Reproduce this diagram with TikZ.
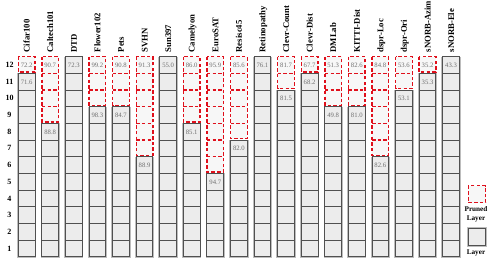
\documentclass[tikz,border=0pt]{standalone}
\usepackage{fontspec}
\setmainfont{Liberation Serif}
\definecolor{cellfill}{HTML}{ECECEC}
\definecolor{celldraw}{HTML}{505050}
\definecolor{halocol}{HTML}{BDBDBD}
\definecolor{prunefill}{HTML}{F7F7F7}
\definecolor{prunered}{HTML}{E0101C}
\definecolor{numgray}{HTML}{707070}
\tikzset{
 normcell/.style={draw=celldraw, fill=cellfill, line width=0.9pt},
 halo/.style={draw=halocol, line width=2.6pt},
 prunedline/.style={draw=prunered, line width=1.4pt, dash pattern=on 3.5pt off 2.2pt},
 prunedcell/.style={prunedline, fill=prunefill},
 cellnum/.style={text=numgray, font=\fontsize{6.7}{7}\selectfont, inner sep=0pt},
 collabel/.style={rotate=90, anchor=base west, font=\fontsize{8.7}{10}\selectfont\bfseries, inner sep=0pt},
 rowlabel/.style={font=\fontsize{8}{9}\selectfont\bfseries, inner sep=0pt},
 legendtext/.style={font=\fontsize{7.2}{9}\selectfont\bfseries, align=center, inner sep=0pt}
}
\begin{document}
\begin{tikzpicture}[x=1pt,y=-1pt]
\useasboundingbox (0,0) rectangle (496,260);
\foreach \r in {1,...,12} {
  \pgfmathsetmacro\yc{56.7+(12-\r)*16.667+8.33}
  \node[rowlabel] (row\r) at (9.5,\yc) {\r};
}
\foreach \i/\nm/\k/\a/\b in {
 0/Cifar100/1/72.2/71.6,
 1/Caltech101/4/90.7/88.8,
 2/DTD/0/72.3/-,
 3/Flower102/3/99.2/98.3,
 4/Pets/3/90.8/84.7,
 5/SVHN/6/91.3/88.9,
 6/Sun397/0/55.0/-,
 7/Camelyon/4/86.0/85.1,
 8/EuroSAT/7/95.9/94.7,
 9/Resisc45/5/85.6/82.0,
 10/Retinopathy/0/76.1/-,
 11/Clevr-Count/2/81.7/81.5,
 12/Clevr-Dist/1/67.7/68.2,
 13/DMLab/3/51.3/49.8,
 14/KITTI-Dist/3/82.6/81.0,
 15/dspr-Loc/6/84.8/82.6,
 16/dspr-Ori/2/53.6/53.1,
 17/sNORB-Azim/1/35.2/35.3,
 18/sNORB-Ele/0/43.3/-} {
 \pgfmathsetmacro\xl{18.3+\i*23.58}
 \pgfmathsetmacro\xr{\xl+16.7}
 \pgfmathsetmacro\xc{\xl+8.35}
 \pgfmathsetmacro\yb{56.7+\k*16.667}
 \pgfmathtruncatemacro\nn{12-\k}
 \node[collabel] (lab\i) at (\xc+3.0,52.5) {\nm};
 \draw[halo] (\xl,\yb+1.3) rectangle (\xr,256.7);
 \foreach \r in {1,...,\nn} {
   \pgfmathsetmacro\yt{56.7+(12-\r)*16.667}
   \draw[normcell] (\xl,\yt) rectangle (\xr,\yt+16.667);
 }
 \ifnum\k>0
   \draw[prunedcell] (\xl,56.7) rectangle (\xr,\yb-1.4);
   \ifnum\k>1
     \pgfmathtruncatemacro\km{\k-1}
     \foreach \j in {1,...,\km} {
       \draw[prunedline] (\xl,56.7+\j*16.667) -- (\xr,56.7+\j*16.667);
     }
   \fi
   \node[cellnum] (vb\i) at (\xc,\yb+8.5) {\b};
 \fi
 \node[cellnum] (va\i) at (\xc,65.2) {\a};
}
\draw[prunedcell] (468.3,185.7) rectangle (485.7,202.7);
\node[legendtext] (lgp) at (476,214.3) {Pruned\\Layer};
\draw[halo] (468.3,228.3) rectangle (485.7,245.7);
\draw[normcell] (468.3,228.3) rectangle (485.7,245.7);
\node[legendtext] (lgl) at (476,252.5) {Layer};
\end{tikzpicture}
\end{document}
